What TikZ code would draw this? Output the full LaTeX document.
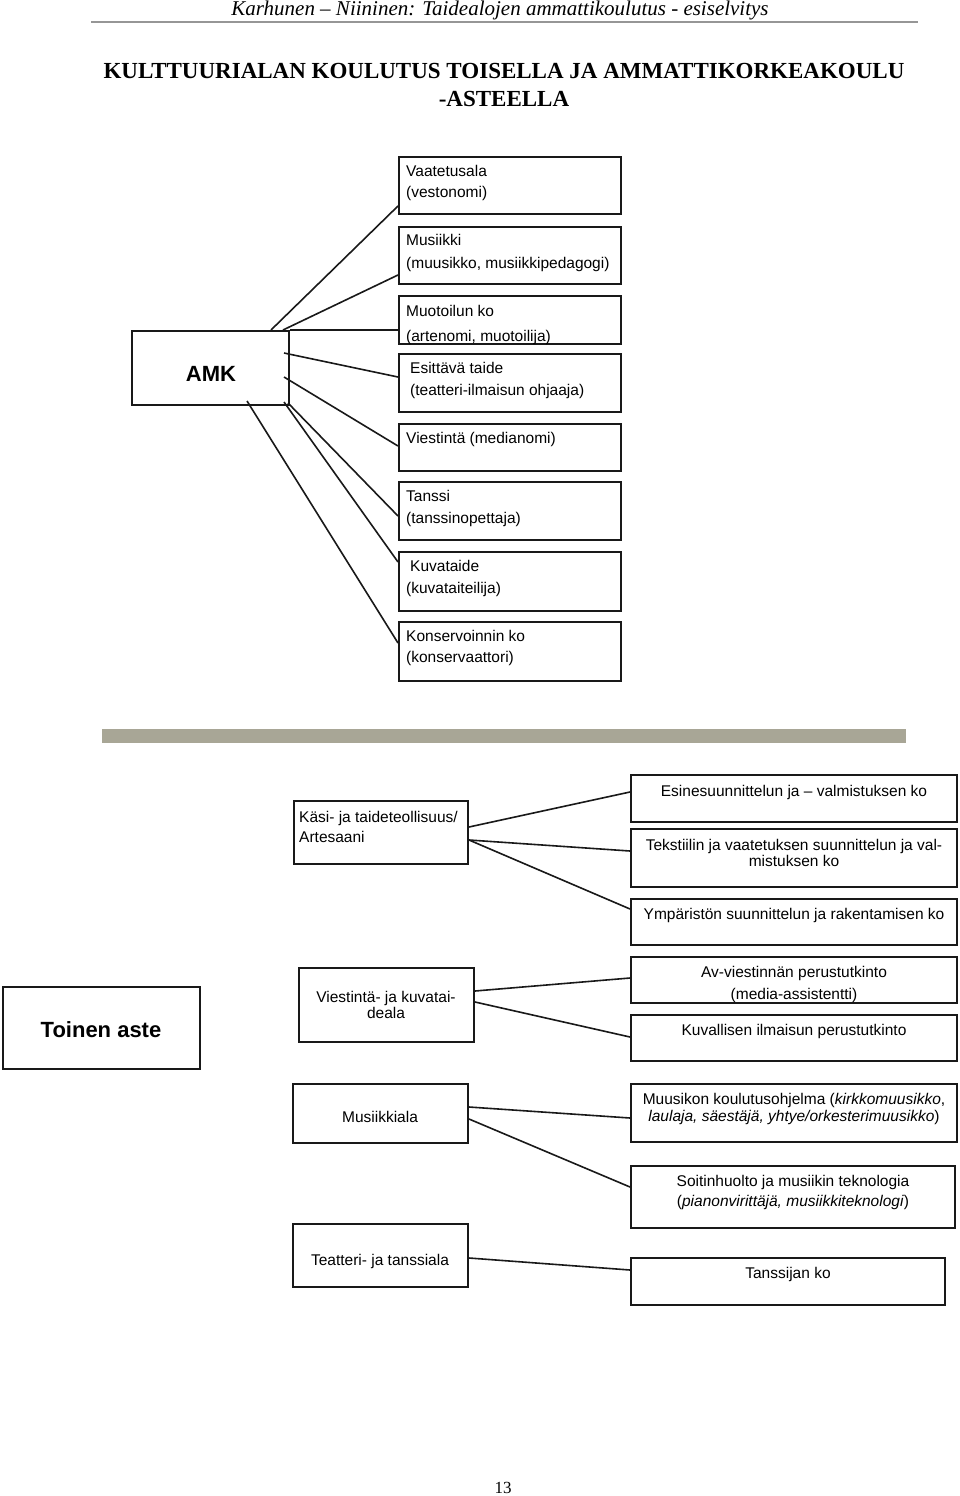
\documentclass[tikz,border=0pt]{standalone}
\usepackage{fontspec}
\setmainfont{Liberation Serif}
\newfontfamily\arialf{Liberation Sans}
\usetikzlibrary{fit,calc}
\definecolor{barcol}{RGB}{168,166,150}
\definecolor{boxcol}{RGB}{25,25,25}
\begin{document}
\begin{tikzpicture}[x=1pt,y=-1pt,
  box/.style={draw=boxcol,line width=2pt,inner sep=0pt,rectangle},
  t/.style={font=\arialf\fontsize{15.5}{18}\selectfont,inner sep=0pt,text=black},
  tb/.style={font=\arialf\bfseries\fontsize{22}{26}\selectfont,inner sep=0pt},
  conn/.style={draw=boxcol,line width=1.6pt}]
\useasboundingbox (0,0) rectangle (960,1496);
\fill[white] (0,0) rectangle (960,1496);
% header
\node[font=\itshape\fontsize{21}{24}\selectfont,anchor=base,inner sep=0pt] (hdr) at (500,16) {Karhunen – Niininen: Taidealojen ammattikoulutus - esiselvitys};
\coordinate (hl1) at (91,22);
\coordinate (hl2) at (918,22);
\draw[draw={rgb,255:red,150;green,150;blue,150},line width=1.5pt] (hl1) -- (hl2);
\node[font=\bfseries\fontsize{23}{26}\selectfont,anchor=base,inner sep=0pt] (tit1) at (504,78) {KULTTUURIALAN KOULUTUS TOISELLA JA AMMATTIKORKEAKOULU};
\node[font=\bfseries\fontsize{23}{26}\selectfont,anchor=base,inner sep=0pt] (tit2) at (504,106) {-ASTEELLA};
% AMK section boxes
\node[box,fit={(132,331) (289,405)}] (amk) {};
\node[tb] (amkt) at (211,374) {AMK};
\node[box,fit={(399,157) (621,214)}] (vaat) {};
\node[box,fit={(399,227) (621,284)}] (musi) {};
\node[box,fit={(399,296) (621,344)}] (muot) {};
\node[box,fit={(399,354) (621,412)}] (esit) {};
\node[box,fit={(399,424) (621,471)}] (vies) {};
\node[box,fit={(399,482) (621,540)}] (tans) {};
\node[box,fit={(399,552) (621,611)}] (kuva) {};
\node[box,fit={(399,622) (621,681)}] (kons) {};
\node[t,anchor=base west] (vaat1) at (406,176.5) {Vaatetusala};
\node[t,anchor=base west] (vaat2) at (406,197.5) {(vestonomi)};
\node[t,anchor=base west] (musi1) at (406,245.5) {Musiikki};
\node[t,anchor=base west] (musi2) at (406,268.5) {(muusikko, musiikkipedagogi)};
\node[t,anchor=base west] (muot1) at (406,316.5) {Muotoilun ko};
\node[t,anchor=base west] (muot2) at (406,341.5) {(artenomi, muotoilija)};
\node[t,anchor=base west] (esit1) at (410,373.5) {Esittävä taide};
\node[t,anchor=base west] (esit2) at (410,395.5) {(teatteri-ilmaisun ohjaaja)};
\node[t,anchor=base west] (vies1) at (406,443.5) {Viestintä (medianomi)};
\node[t,anchor=base west] (tans1) at (406,501.5) {Tanssi};
\node[t,anchor=base west] (tans2) at (406,523.5) {(tanssinopettaja)};
\node[t,anchor=base west] (kuva1) at (410,571.5) {Kuvataide};
\node[t,anchor=base west] (kuva2) at (406,593.5) {(kuvataiteilija)};
\node[t,anchor=base west] (kons1) at (406,641.5) {Konservoinnin ko};
\node[t,anchor=base west] (kons2) at (406,662.5) {(konservaattori)};
% AMK connectors
\draw[conn] ($(amk.north west)+(140,0)$) -- ($(vaat.south west)+(0,-9)$);
\draw[conn] ($(amk.north west)+(152,0)$) -- ($(musi.south west)+(0,-10)$);
\draw[conn] (amk.north east) -- (muot.west |- amk.north east);
\draw[conn] ($(amk.north east)+(-6,23)$) -- ($(esit.north west)+(0,24)$);
\draw[conn] ($(amk.north east)+(-6,47)$) -- ($(vies.north west)+(0,23)$);
\draw[conn] ($(amk.south east)+(-2,-3)$) -- ($(tans.north west)+(0,35)$);
\draw[conn] ($(amk.south east)+(-6,-4)$) -- ($(kuva.north west)+(0,11)$);
\draw[conn] ($(amk.south west)+(116,-5)$) -- ($(kons.north west)+(0,22)$);
% gray bar
\fill[barcol] (102,729) rectangle (906,743);
% Kasi section
\node[box,fit={(294,801) (468,864)}] (kasi) {};
\node[box,fit={(631,775) (957,822)}] (esin) {};
\node[box,fit={(631,829) (957,887)}] (teks) {};
\node[box,fit={(631,899) (957,945)}] (ymp) {};
\node[t,anchor=base west] (kasi1) at (299,822.5) {Käsi- ja taideteollisuus/};
\node[t,anchor=base west] (kasi2) at (299,842.5) {Artesaani};
\node[t,anchor=base] (esin1) at (794,796.5) {Esinesuunnittelun ja – valmistuksen ko};
\node[t,anchor=base] (teks1) at (794,850.5) {Tekstiilin ja vaatetuksen suunnittelun ja val-};
\node[t,anchor=base] (teks2) at (794,866.5) {mistuksen ko};
\node[t,anchor=base] (ymp1) at (794,919.5) {Ympäristön suunnittelun ja rakentamisen ko};
\draw[conn] ($(kasi.north east)+(0,27)$) -- ($(esin.north west)+(0,18)$);
\draw[conn] ($(kasi.north east)+(0,40)$) -- ($(teks.north west)+(0,23)$);
\draw[conn] ($(kasi.north east)+(0,40)$) -- ($(ymp.north west)+(0,11)$);
% Toinen aste
\node[box,fit={(3,987) (200,1069)}] (toin) {};
\node[tb] (toint) at (101,1030) {Toinen aste};
\node[box,fit={(299,968) (474,1042)}] (vkv) {};
\node[box,fit={(631,957) (957,1003)}] (av) {};
\node[box,fit={(631,1015) (957,1061)}] (kuvi) {};
\node[t,anchor=base] (vkv1) at (386,1002.5) {Viestintä- ja kuvatai-};
\node[t,anchor=base] (vkv2) at (386,1018.5) {deala};
\node[t,anchor=base] (av1) at (794,977.5) {Av-viestinnän perustutkinto};
\node[t,anchor=base] (av2) at (794,999.5) {(media-assistentti)};
\node[t,anchor=base] (kuvi1) at (794,1035.5) {Kuvallisen ilmaisun perustutkinto};
\draw[conn] ($(vkv.north east)+(0,24)$) -- ($(av.north west)+(0,22)$);
\draw[conn] ($(vkv.north east)+(0,35)$) -- ($(kuvi.north west)+(0,23)$);
% Musiikkiala
\node[box,fit={(293,1084) (468,1143)}] (musa) {};
\node[box,fit={(631,1084) (957,1142)}] (muus) {};
\node[box,fit={(631,1166) (955,1228)}] (soit) {};
\node[t,anchor=base] (musa1) at (380,1122.5) {Musiikkiala};
\node[t,anchor=base] (muus1) at (794,1104.5) {Muusikon koulutusohjelma (\textit{kirkkomuusikko},};
\node[t,anchor=base] (muus2) at (794,1121) {\textit{laulaja, säestäjä, yhtye/orkesterimuusikko})};
\node[t,anchor=base] (soit1) at (793,1186.5) {Soitinhuolto ja musiikin teknologia};
\node[t,anchor=base] (soit2) at (793,1206.5) {(\textit{pianonvirittäjä, musiikkiteknologi})};
\draw[conn] ($(musa.north east)+(0,24)$) -- ($(muus.north west)+(0,35)$);
\draw[conn] ($(musa.north east)+(0,36)$) -- ($(soit.north west)+(0,22)$);
% Teatteri
\node[box,fit={(293,1224) (468,1287)}] (teat) {};
\node[box,fit={(631,1258) (945,1305)}] (tanj) {};
\node[t,anchor=base] (teat1) at (380,1265.5) {Teatteri- ja tanssiala};
\node[t,anchor=base] (tanj1) at (788,1278.5) {Tanssijan ko};
\draw[conn] ($(teat.north east)+(0,35)$) -- ($(tanj.north west)+(0,13)$);
% page number
\node[font=\fontsize{17}{20}\selectfont,anchor=base,inner sep=0pt] (pg) at (503,1493) {13};
\end{tikzpicture}
\end{document}
